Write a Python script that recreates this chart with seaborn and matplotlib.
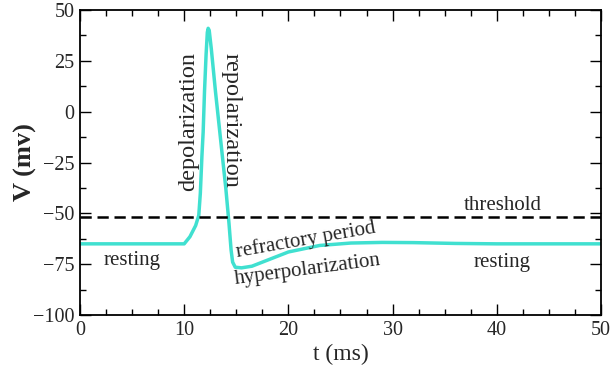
import matplotlib
matplotlib.use("Agg")
import matplotlib.pyplot as plt
import seaborn as sns
import pandas as pd
from matplotlib.ticker import MultipleLocator

# Data
t_ms = [0, 10, 10.55, 11.1, 11.4, 11.55, 11.7, 11.82, 11.95, 12.1, 12.22, 12.3, 12.4,
        12.6, 13.0, 13.5, 14.0, 14.3, 14.5, 14.65, 14.9, 15.5, 16.5, 18, 20, 23, 26,
        29, 32, 36, 40, 50]
v_mv = [-65, -65, -61.5, -56, -51, -40, -22, -10, 10, 28, 39, 41, 40,
        31, 10, -14, -38, -55, -68, -74, -76.5, -76.8, -76, -73, -69, -65.8, -64.6,
        -64.3, -64.4, -64.8, -65, -65]
threshold = -52

labels = ["resting", "depolarization", "repolarization", "threshold",
          "refractory period", "hyperpolarization", "resting"]
label_x = [5.0, 11.0, 14.0, 40.6, 21.8, 21.9, 40.5]
label_y = [-75.4, -5.0, -4.1, -48.4, -65.4, -79.9, -76.3]
label_rot = [0, 90, -90, 0, 10, 7.5, 0]
label_size = [15, 17.5, 17.5, 15, 15, 15, 15]

x_ticks = [0, 10, 20, 30, 40, 50]
y_ticks = [-100, -75, -50, -25, 0, 25, 50]

sns.set_style("ticks")
plt.rcParams["font.family"] = ["Liberation Serif", "DejaVu Serif"]

fig = plt.figure(figsize=(6.13, 3.76), dpi=100)
ax = fig.add_axes([0.1305, 0.1622, 0.8499, 0.8112])

df = pd.DataFrame({"t": t_ms, "V": v_mv})
sns.lineplot(data=df, x="t", y="V", ax=ax, color="#40E0D0", linewidth=2.5,
             sort=False, estimator=None)
ax.axhline(threshold, color="black", linestyle=(0, (4.5, 2.3)), linewidth=1.8)

for txt, x, y, r, fs in zip(labels, label_x, label_y, label_rot, label_size):
    ax.text(x, y, txt, rotation=r, rotation_mode="anchor", ha="center",
            va="baseline", fontsize=fs)

ax.set_xlim(0, 50)
ax.set_ylim(-100, 50)
ax.set_xticks(x_ticks)
ax.set_yticks(y_ticks)
ax.xaxis.set_minor_locator(MultipleLocator(2.5))
ax.yaxis.set_minor_locator(MultipleLocator(12.5))
ax.tick_params(which="both", direction="in", top=True, right=True, labelsize=14.5,
               width=1.0, color="black")
ax.tick_params(which="major", length=8, pad=4)
ax.tick_params(which="minor", length=4)
for s in ax.spines.values():
    s.set_linewidth(1.3)
    s.set_color("black")

ax.set_xlabel("t (ms)", fontsize=17, labelpad=3)
ax.set_ylabel("V (mv)", fontsize=19, fontweight="bold", labelpad=-3)

fig.savefig("out.png", dpi=100)
